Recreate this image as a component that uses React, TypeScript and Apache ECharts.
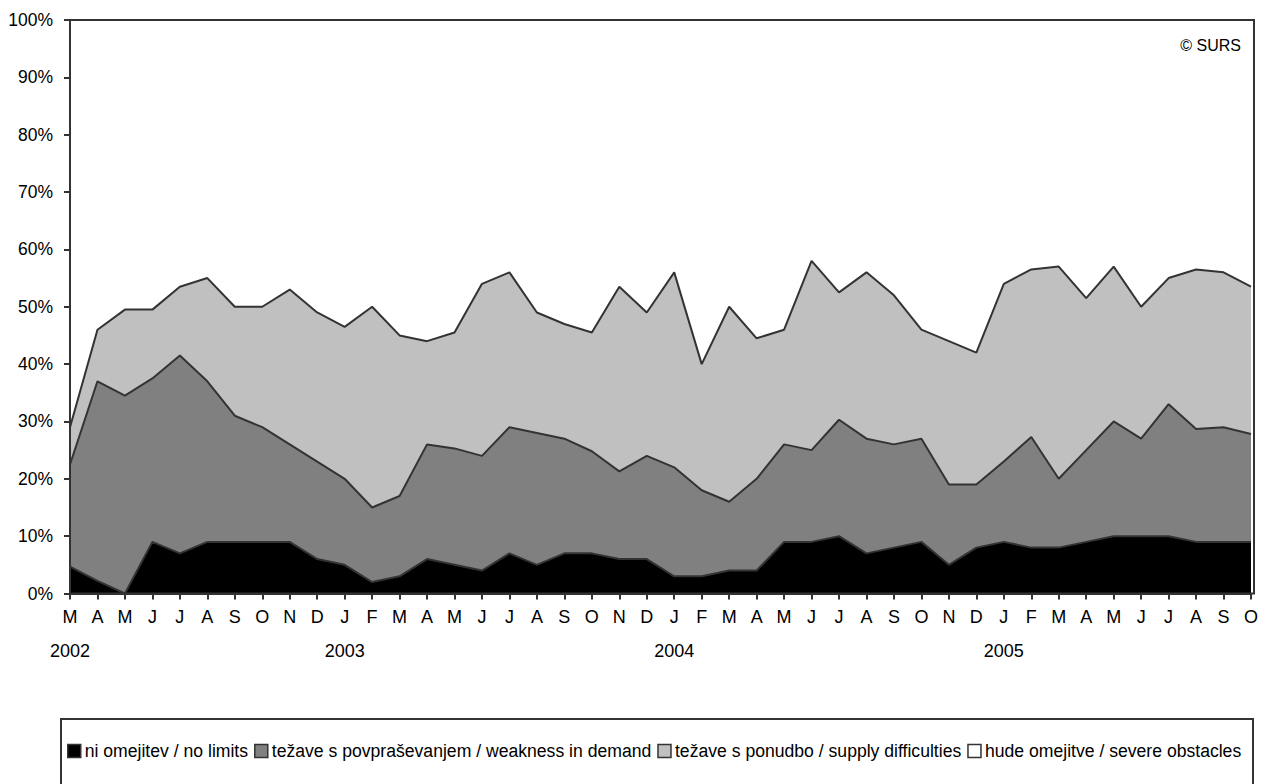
import React, { useEffect, useRef } from "react";
import * as echarts from "echarts";

const months = [
  "M", "A", "M", "J", "J", "A", "S", "O", "N", "D",
  "J", "F", "M", "A", "M", "J", "J", "A", "S", "O", "N", "D",
  "J", "F", "M", "A", "M", "J", "J", "A", "S", "O", "N", "D",
  "J", "F", "M", "A", "M", "J", "J", "A", "S", "O",
];
const years = [
  "2002", "", "", "", "", "", "", "", "", "",
  "2003", "", "", "", "", "", "", "", "", "", "", "",
  "2004", "", "", "", "", "", "", "", "", "", "", "",
  "2005", "", "", "", "", "", "", "", "", "",
];
const yTicks = [0, 10, 20, 30, 40, 50, 60, 70, 80, 90, 100];

// ni omejitev / no limits
const noLimits = [
  4.7, 2.2, 0, 9, 7, 9, 9, 9, 9, 6, 5, 2, 3,
  6, 5, 4, 7, 5, 7, 7, 6, 6, 3, 3, 4, 4, 9, 9,
  10, 7, 8, 9, 5, 8, 9, 8, 8, 9, 10, 10, 10, 9, 9, 9,
];
// težave s povpraševanjem / weakness in demand
const demand = [
  17.8, 34.8, 34.5, 28.5, 34.5, 28, 22, 20, 17, 17, 15, 13, 14,
  20, 20.3, 20, 22, 23, 20, 17.8, 15.3, 18, 19, 15, 12, 16, 17, 16,
  20.3, 20, 18, 18, 14, 11, 14, 19.3, 12, 16, 20, 17, 23, 19.7, 20, 18.8,
];
// težave s ponudbo / supply difficulties
const supply = [
  6.5, 9, 15, 12, 12, 18, 19, 21, 27, 26, 26.5, 35, 28,
  18, 20.2, 30, 27, 21, 20, 20.7, 32.2, 25, 34, 22, 34, 24.5, 20, 33,
  22.2, 29, 26, 19, 25, 23, 31, 29.2, 37, 26.5, 27, 23, 22, 27.8, 27, 25.7,
];
// hude omejitve / severe obstacles
const severe = [
  71, 54, 50.5, 50.5, 46.5, 45, 50, 50, 47, 51, 53.5, 50, 55,
  56, 54.5, 46, 44, 51, 53, 54.5, 46.5, 51, 44, 60, 50, 55.5, 54, 42,
  47.5, 44, 48, 54, 56, 58, 46, 43.5, 43, 48.5, 43, 50, 45, 43.5, 44, 46.5,
];

const seriesNames = [
  "ni omejitev / no limits",
  "težave s povpraševanjem / weakness in demand",
  "težave s ponudbo / supply difficulties",
  "hude omejitve / severe obstacles",
];
const seriesColors = ["#000000", "#808080", "#c0c0c0", "#ffffff"];

const FONT = "'Liberation Sans', Arial, sans-serif";
const W = 1261;
const H = 784;
const G_LEFT = 70;
const G_RIGHT = 7;
const G_TOP = 20;
const G_BOTTOM = 190.5;

export default function App() {
  const ref = useRef<HTMLDivElement>(null);
  useEffect(() => {
    if (!ref.current) return;
    const chart = echarts.init(ref.current, undefined, { renderer: "svg" });
    const categories = months.map((m, i) => `${i}-${m}`);
    const values = [noLimits, demand, supply, severe];
    const option: any = {
      animation: false,
      backgroundColor: "#ffffff",
      textStyle: { fontFamily: FONT },
      grid: { left: G_LEFT, right: G_RIGHT, top: G_TOP, bottom: G_BOTTOM },
      xAxis: {
        type: "category",
        data: categories,
        boundaryGap: false,
        z: 10,
        axisLine: { lineStyle: { color: "#333333", width: 2 } },
        axisTick: { show: true, inside: false, length: 6, interval: 0, lineStyle: { color: "#333333", width: 2 } },
        axisLabel: {
          interval: 0,
          margin: 6.5,
          color: "#000000",
          fontFamily: FONT,
          fontSize: 18,
          lineHeight: 34,
          formatter: (_v: string, i: number) => (years[i] ? months[i] + "\n" + years[i] : months[i]),
        },
        splitLine: { show: false },
      },
      yAxis: {
        type: "value",
        min: yTicks[0],
        max: yTicks[yTicks.length - 1],
        interval: 10,
        z: 10,
        axisLine: { show: true, lineStyle: { color: "#333333", width: 2 } },
        axisTick: { show: true, inside: false, length: 6, lineStyle: { color: "#333333", width: 2 } },
        axisLabel: { margin: 17, color: "#000000", fontFamily: FONT, fontSize: 17.5, formatter: "{value}%" },
        splitLine: { show: false },
      },
      legend: {
        show: true,
        left: 67,
        top: 742,
        width: 1250,
        icon: "rect",
        itemWidth: 13,
        itemHeight: 13,
        itemGap: 6,
        padding: 0,
        itemStyle: { borderColor: "#333333", borderWidth: 1.5 },
        textStyle: { fontFamily: FONT, fontSize: 17.6, color: "#000000", padding: [0, 0, 0, -1] },
        data: seriesNames,
      },
      series: values.map((vals, k) => ({
        name: seriesNames[k],
        type: "line",
        stack: "total",
        data: vals,
        symbol: "none",
        z: 5 - k,
        itemStyle: { color: seriesColors[k] },
        lineStyle: { color: "#333333", width: 2 },
        areaStyle: { color: seriesColors[k], opacity: 1 },
      })),
      graphic: [
        {
          type: "rect",
          z: 100,
          silent: true,
          shape: { x: G_LEFT, y: G_TOP, width: W - G_LEFT - G_RIGHT, height: H - G_TOP - G_BOTTOM },
          style: { fill: "none", stroke: "#333333", lineWidth: 2 },
        },
        {
          type: "text",
          z: 100,
          x: 1241,
          y: 45,
          style: { text: "© SURS", fontFamily: FONT, fontSize: 16, fill: "#000000", align: "right", verticalAlign: "middle" },
        },
        {
          type: "rect",
          z: 100,
          silent: true,
          shape: { x: 61, y: 719, width: 1192, height: 100 },
          style: { fill: "none", stroke: "#333333", lineWidth: 2 },
        },
      ],
    };
    chart.setOption(option);
    return () => chart.dispose();
  }, []);
  return <div ref={ref} style={{ position: "absolute", left: 0, top: 0, width: W, height: H }} />;
}
